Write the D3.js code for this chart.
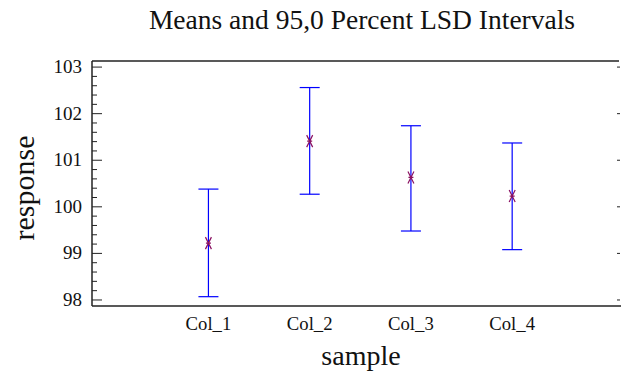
<!DOCTYPE html>
<html>
<head>
<meta charset="utf-8">
<script src="https://cdn.jsdelivr.net/npm/d3@7"></script>
<style>
  body { margin: 0; background: #fff; }
  text { font-family: "Liberation Serif", "Times New Roman", serif; fill: #111; }
</style>
</head>
<body>
<div id="chart"></div>
<script>
// data
let samples = ["Col_1", "Col_2", "Col_3", "Col_4"];
let means = [99.21, 101.40, 100.62, 100.22];
let lower = [98.06, 100.26, 99.47, 99.07];
let upper = [100.37, 102.55, 101.73, 101.36];
let yTicks = [98, 99, 100, 101, 102, 103];

let width = 621, height = 372;
let margin = {left: 92, right: 1, top: 61, bottom: 66};

let svg = d3.select("#chart")
    .append("svg")
    .attr("width", width)
    .attr("height", height);

let x = d3.scaleLinear()
    .domain([-0.15, 5.065])
    .range([margin.left, width - margin.right]);

let y = d3.scaleLinear()
    .domain([97.86, 103.12])
    .range([height - margin.bottom, margin.top]);

// frame: left, top, bottom
let frame = svg.append("g").attr("stroke", "#222").attr("stroke-width", 1.5);
frame.append("line")
    .attr("x1", margin.left).attr("x2", margin.left)
    .attr("y1", y.range()[1]).attr("y2", y.range()[0]);
frame.append("line")
    .attr("x1", margin.left).attr("x2", width - 2)
    .attr("y1", y.range()[1]).attr("y2", y.range()[1]);
frame.append("line")
    .attr("x1", margin.left).attr("x2", width)
    .attr("y1", y.range()[0]).attr("y2", y.range()[0]);

// left axis, ticks pointing inward
let minor = d3.range(98, 103.01, 0.2).filter(v => Math.abs(v - Math.round(v)) > 0.01);
svg.append("g")
    .attr("transform", `translate(${margin.left}, 0)`)
    .call(d3.axisRight(y).tickValues(minor).tickSize(5).tickFormat(""))
    .call(g => g.select(".domain").remove())
    .call(g => g.selectAll("line").attr("stroke", "#222"));

svg.append("g")
    .attr("transform", `translate(${margin.left}, 0)`)
    .call(d3.axisRight(y).tickValues(yTicks).tickSize(10).tickFormat(""))
    .call(g => g.select(".domain").remove())
    .call(g => g.selectAll("line").attr("stroke", "#222"));

svg.append("g")
    .selectAll("text")
    .data(yTicks)
    .enter()
    .append("text")
    .attr("x", 82)
    .attr("y", d => y(d) + 6.5)
    .style("text-anchor", "end")
    .style("font-size", "19px")
    .text(d => d);

// right side short ticks
svg.append("g")
    .attr("transform", `translate(${width - 1}, 0)`)
    .call(d3.axisLeft(y).tickValues(yTicks).tickSize(3).tickFormat(""))
    .call(g => g.select(".domain").remove())
    .call(g => g.selectAll("line").attr("stroke", "#222"));

// x tick labels
svg.append("g")
    .selectAll("text")
    .data(samples)
    .enter()
    .append("text")
    .attr("x", (d, i) => x(i + 1))
    .attr("y", 330)
    .style("text-anchor", "middle")
    .style("font-size", "18.7px")
    .text(d => d);

// intervals
let bars = svg.append("g").attr("stroke", "#0000ff").attr("stroke-width", 1.2);
samples.forEach(function(s, i) {
    let cx = x(i + 1);
    bars.append("line")
        .attr("x1", cx).attr("x2", cx)
        .attr("y1", y(upper[i])).attr("y2", y(lower[i]));
    bars.append("line")
        .attr("x1", cx - 10).attr("x2", cx + 10)
        .attr("y1", y(upper[i])).attr("y2", y(upper[i]));
    bars.append("line")
        .attr("x1", cx - 10).attr("x2", cx + 10)
        .attr("y1", y(lower[i])).attr("y2", y(lower[i]));
});

// mean markers
svg.append("g")
    .selectAll("path")
    .data(means)
    .enter()
    .append("path")
    .attr("transform", (d, i) => `translate(${x(i + 1)}, ${y(d)})`)
    .attr("d", "M-3,-6L3,6M3,-6L-3,6M-2.5,0L2.5,0")
    .attr("stroke", "#8a1060")
    .attr("stroke-width", 1.2)
    .attr("fill", "none");

// titles
svg.append("text")
    .attr("x", 362)
    .attr("y", 29)
    .style("text-anchor", "middle")
    .style("font-size", "27.5px")
    .text("Means and 95,0 Percent LSD Intervals");

svg.append("text")
    .attr("transform", `translate(34, 188) rotate(-90)`)
    .style("text-anchor", "middle")
    .style("font-size", "30px")
    .text("response");

svg.append("text")
    .attr("x", 361)
    .attr("y", 365)
    .style("text-anchor", "middle")
    .style("font-size", "28px")
    .text("sample");
</script>
</body>
</html>
